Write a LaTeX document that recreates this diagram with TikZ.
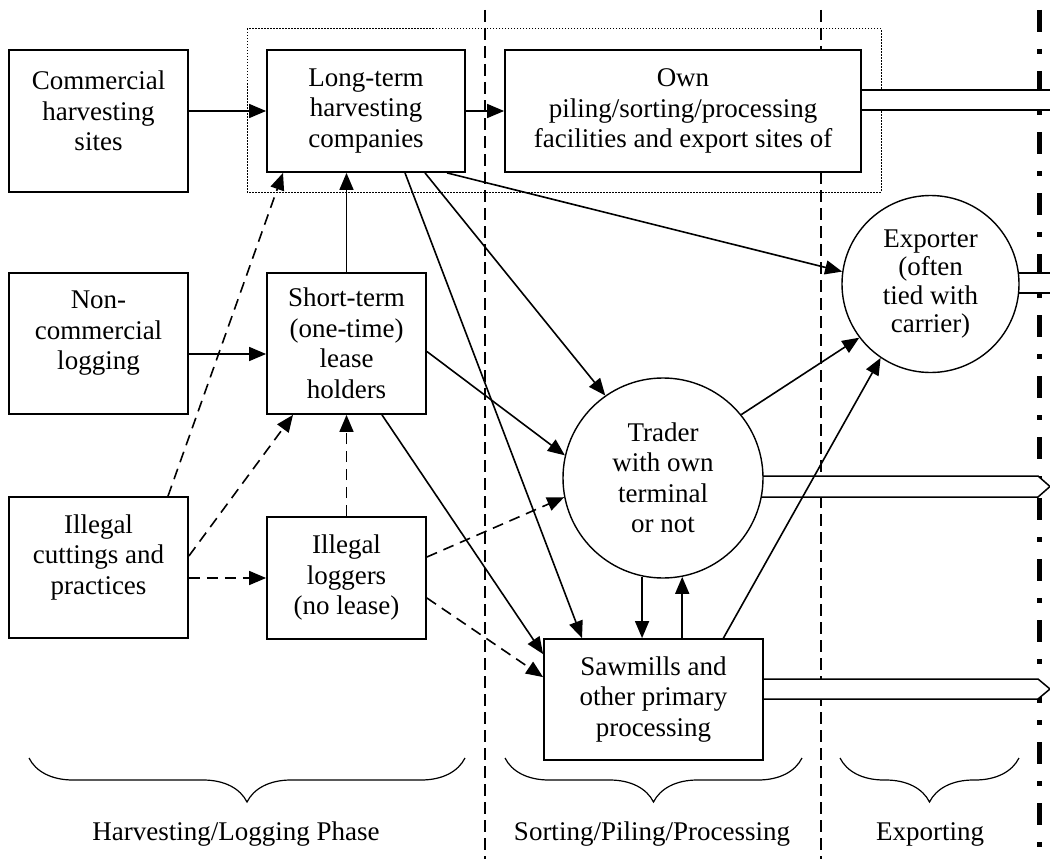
\documentclass[tikz,border=0pt]{standalone}
\usepackage{fontspec}
\setmainfont{Liberation Serif}
\usetikzlibrary{arrows.meta,decorations.pathreplacing,calc}
\pgfdeclarelayer{bg}
\pgfsetlayers{bg,main}
\begin{document}
\begin{tikzpicture}[x=1pt,y=-1pt,
  box/.style={draw,line width=1.8pt,fill=white,inner sep=0pt},
  txt/.style={align=center,font=\fontsize{27}{30.5}\selectfont,inner sep=0pt},
  circ/.style={draw,circle,line width=1.4pt,fill=white,inner sep=0pt},
  arr/.style={line width=1.6pt,-{Triangle[length=17pt,width=14pt]}},
  darr/.style={arr,dash pattern=on 11pt off 7pt},
  phase/.style={line width=2pt,dash pattern=on 12pt off 6pt},
  border/.style={line width=5pt,dash pattern=on 22pt off 17pt on 5pt off 17pt},
  flow/.style={line width=1.5pt,fill=white},
  brc/.style={line width=1.2pt,decorate,decoration={brace,mirror,amplitude=44pt,aspect=0.5}},
  lbl/.style={font=\fontsize{27}{30.5}\selectfont,inner sep=0pt,anchor=base}
]
\useasboundingbox (0,0) rectangle (1050,859);

% left column
\node[box,minimum width=179pt,minimum height=142pt] (cs) at (98.5,121) {};
\node[txt] (cst) at ([yshift=10pt]cs.center) {Commercial\\harvesting\\sites};
\node[box,minimum width=179pt,minimum height=141pt] (nc) at (98.5,343.5) {};
\node[txt] (nct) at ([yshift=10pt]nc.center) {Non-\\commercial\\logging};
\node[box,minimum width=179pt,minimum height=141pt] (ic) at (98.5,567.5) {};
\node[txt] (ict) at ([yshift=10pt]ic.center) {Illegal\\cuttings and\\practices};

% second column
\node[box,txt,minimum width=198pt,minimum height=122pt] (lt) at (366,111) {Long-term\\harvesting\\companies};
\node[box,txt,minimum width=159pt,minimum height=141pt] (st) at (346.5,343.5) {Short-term\\(one-time)\\lease\\holders};
\node[box,txt,minimum width=159pt,minimum height=122pt] (lg) at (346.5,578) {Illegal\\loggers\\(no lease)};

% right part
\node[box,txt,minimum width=356pt,minimum height=122pt] (own) at (683,111) {Own\\piling/sorting/processing\\facilities and export sites of};
\node[circ,txt,minimum size=200pt] (tr) at (663,478) {Trader\\with own\\terminal\\or not};
\node[circ,txt,font=\fontsize{27}{28.5}\selectfont,minimum size=177pt] (ex) at (930.5,284) {Exporter\\(often\\tied with\\carrier)};
\node[box,txt,minimum width=219pt,minimum height=121pt] (saw) at (653.5,699.5) {Sawmills and\\other primary\\processing};

% background lines
\begin{pgfonlayer}{bg}
  \draw[phase] (485,10) -- (485,859);
  \draw[phase] (821,10) -- (821,859);
  \draw[border] (1039,10) -- (1039,859);
  \draw[line width=1pt,dash pattern=on 1.5pt off 1.5pt] (247,29) rectangle (881,192);
  \fill[white] (own.center |- 0,90) rectangle (1051,110);
  \draw[flow] (own.center |- 0,90) -- (1051,90);
  \draw[flow] (own.center |- 0,110) -- (1051,110);
  \fill[white] (ex.center |- 0,273) rectangle (1051,293);
  \draw[flow] (ex.center |- 0,273) -- (1051,273);
  \draw[flow] (ex.center |- 0,293) -- (1051,293);
  \draw[flow] (tr.center |- 0,476) -- (1038,476) -- (1050,486.5) -- (1038,497) -- (tr.center |- 0,497);
  \draw[flow] (saw.center |- 0,679) -- (1038,679) -- (1050,689) -- (1038,699) -- (saw.center |- 0,699);
\end{pgfonlayer}

% connectors
\draw[arr] (cs.east |- lt.west) -- (lt.west);
\draw[arr] (lt.east) -- (own.west);
\draw[arr] ([yshift=-10.5pt]nc.east) -- ([yshift=-10.5pt]st.west);
\draw[darr] (ic.east |- lg.west) -- (lg.west);
\draw[darr] ([xshift=69.5pt]ic.north) -- ([xshift=-83pt]lt.south);
\draw[darr] ([yshift=11.5pt]ic.east) -- ([xshift=-53.5pt]st.south);
\draw[darr] (lg.north) -- (st.south);
\draw[arr] (st.north) -- (st.north |- lt.south);
\draw[arr] ([xshift=39pt]lt.south) -- ([xshift=-71.5pt]saw.north);
\draw[arr] ([xshift=59pt]lt.south) -- (tr.125);
\draw[arr] ([xshift=81pt]lt.south) -- (ex.172);
\draw[arr] ([yshift=-8pt]st.east) -- (tr.167);
\draw[arr] ([xshift=35.5pt]st.south) -- ([yshift=-16pt]saw.north west);
\draw[darr] ([yshift=21pt]lg.east) -- (tr.191);
\draw[darr] ([yshift=-20pt]lg.east) -- ([yshift=-39pt]saw.north west);
\draw[arr] (tr.258.5) -- (tr.258.5 |- saw.north);
\draw[arr] (tr.281 |- saw.north) -- (tr.281);
\draw[arr] (tr.39) -- (ex.217.5);
\draw[arr] ([xshift=-40.5pt]saw.north east) -- (ex.236);

% phase braces and labels
\draw[brc] (29,758) -- (465,758);
\draw[brc] (505,758) -- (802,758);
\draw[brc] (840,758) -- (1019,758);
\node[lbl] (l1) at (236,840) {Harvesting/Logging Phase};
\node[lbl] (l2) at (652,840) {Sorting/Piling/Processing};
\node[lbl] (l3) at (930,840) {Exporting};
\end{tikzpicture}
\end{document}
